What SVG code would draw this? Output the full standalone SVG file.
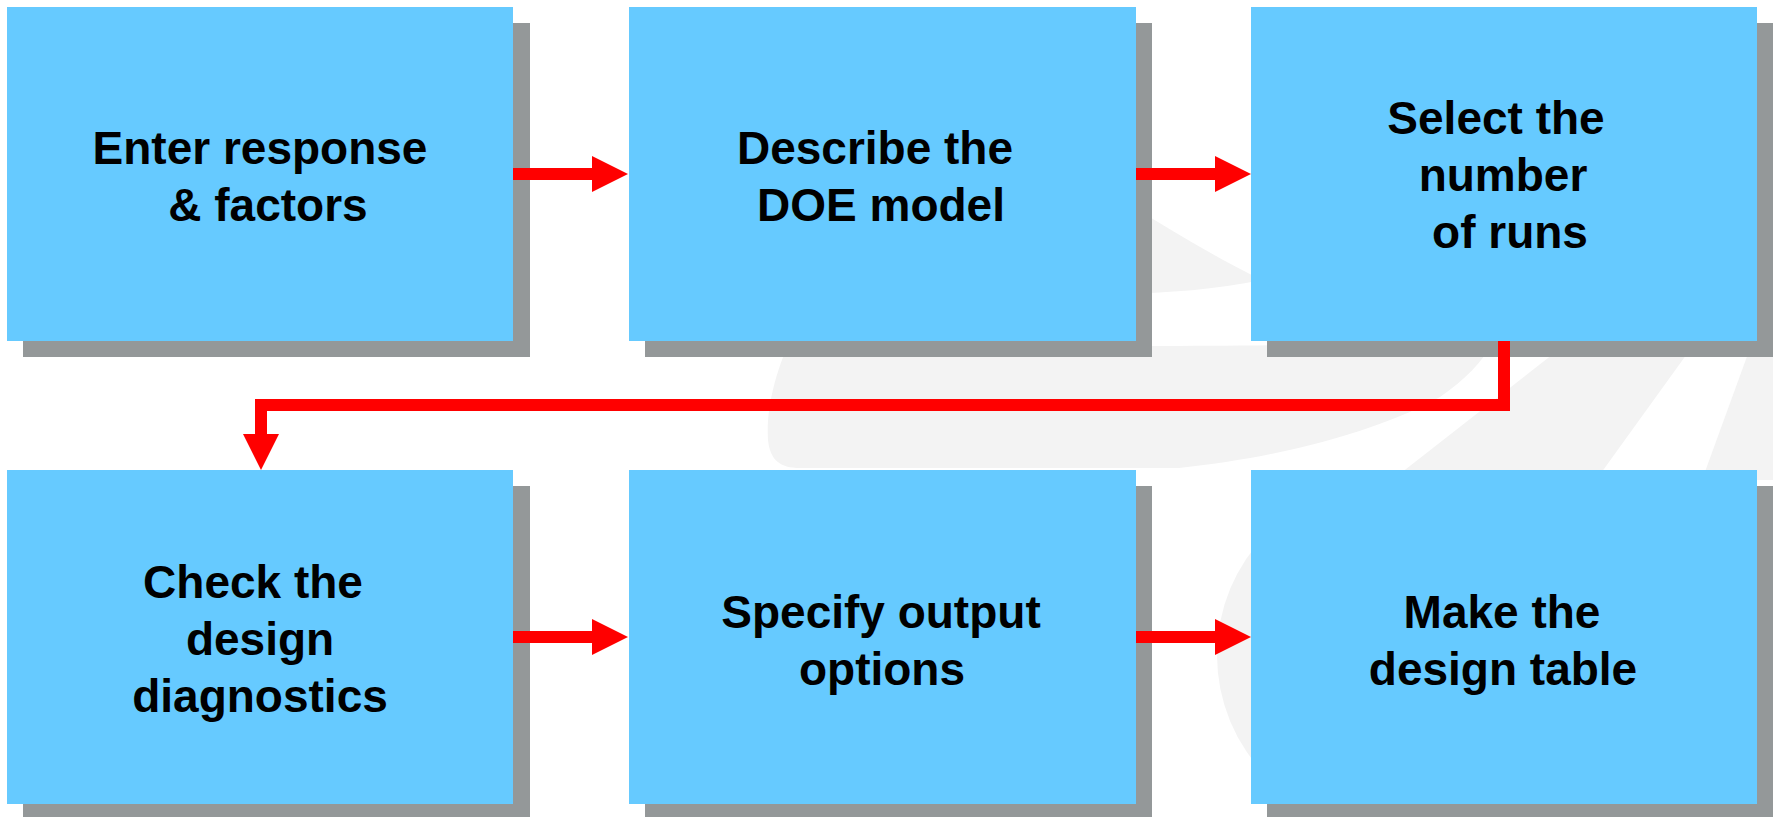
<svg xmlns="http://www.w3.org/2000/svg" width="1773" height="817" viewBox="0 0 1773 817">
  <style>
    .box { fill: #66CAFF; }
    .shadow { fill: #949899; }
    .label { font-family: "Liberation Sans", Arial, sans-serif; font-weight: bold; font-size: 46px; fill: #000000; text-anchor: middle; }
    .wm { fill: #F3F3F3; }
    .conn { fill: none; stroke: #FF0000; stroke-width: 12; stroke-linejoin: miter; stroke-linecap: butt; }
    .head { fill: #FF0000; }
  </style>
  <defs>
    <g id="arrowRight">
      <polygon class="head" points="0,-18 36,0 0,18"/>
    </g>
  </defs>
  <rect x="0" y="0" width="1773" height="817" fill="#FFFFFF"/>

  <!-- faint watermark background -->
  <g id="watermark">
    <path class="wm" d="M 1040 150 C 1110 190, 1180 240, 1262 280 C 1200 292, 1140 296, 1060 292 Z"/>
    <path class="wm" d="M 795 330 C 775 370, 766 410, 768 440 C 770 460, 780 468, 800 468 L 1179 468 C 1300 455, 1390 425, 1440 397 C 1465 380, 1482 362, 1495 340 C 1400 344, 1260 346, 1150 346 C 1000 344, 880 338, 795 330 Z"/>
    <path class="wm" d="M 1571 340 L 1697 340 L 1596 480 L 1392 480 Z"/>
    <path class="wm" d="M 1753 340 L 1773 340 L 1773 480 L 1702 480 Z"/>
    <circle class="wm" cx="1390" cy="655" r="173"/>
  </g>

  <!-- small logo fragment, bottom right -->
  <g id="logo">
    <path d="M 1718 814 Q 1740 801 1764 803" fill="none" stroke="#1a1a1a" stroke-width="5" stroke-linecap="round"/>
    <circle cx="1767" cy="798" r="7" fill="#1a1a1a"/>
    <line x1="1701" y1="817" x2="1713" y2="804" stroke="#b22a2a" stroke-width="4"/>
    <line x1="1688" y1="805" x2="1692" y2="817" stroke="#1a1a1a" stroke-width="3"/>
  </g>

  <g id="node1">
    <rect class="shadow" x="23" y="23" width="507" height="334"/>
    <rect class="box" x="7" y="7" width="506" height="334"/>
    <text class="label" x="260" y="164">Enter response</text>
    <text class="label" x="268" y="221">&amp; factors</text>
  </g>
  <g id="node2">
    <rect class="shadow" x="645" y="23" width="507" height="334"/>
    <rect class="box" x="629" y="7" width="507" height="334"/>
    <text class="label" x="875" y="164">Describe the</text>
    <text class="label" x="881" y="221">DOE model</text>
  </g>
  <g id="node3">
    <rect class="shadow" x="1267" y="23" width="507" height="334"/>
    <rect class="box" x="1251" y="7" width="506" height="334"/>
    <text class="label" x="1496" y="134">Select the</text>
    <text class="label" x="1503" y="191">number</text>
    <text class="label" x="1510" y="248">of runs</text>
  </g>
  <g id="node4">
    <rect class="shadow" x="23" y="486" width="507" height="334"/>
    <rect class="box" x="7" y="470" width="506" height="334"/>
    <text class="label" x="253" y="598">Check the</text>
    <text class="label" x="260" y="655">design</text>
    <text class="label" x="260" y="712">diagnostics</text>
  </g>
  <g id="node5">
    <rect class="shadow" x="645" y="486" width="507" height="334"/>
    <rect class="box" x="629" y="470" width="507" height="334"/>
    <text class="label" x="881" y="628">Specify output</text>
    <text class="label" x="882" y="685">options</text>
  </g>
  <g id="node6">
    <rect class="shadow" x="1267" y="486" width="507" height="334"/>
    <rect class="box" x="1251" y="470" width="506" height="334"/>
    <text class="label" x="1502" y="628">Make the</text>
    <text class="label" x="1503" y="685">design table</text>
  </g>

  <g id="connectors">
    <line class="conn" x1="513" y1="174" x2="594" y2="174"/>
    <use href="#arrowRight" x="592" y="174"/>
    <line class="conn" x1="1136" y1="174" x2="1217" y2="174"/>
    <use href="#arrowRight" x="1215" y="174"/>
    <path class="conn" d="M 1504 341 V 405 H 261 V 436"/>
    <polygon class="head" points="243,434 279,434 261,470"/>
    <line class="conn" x1="513" y1="637" x2="594" y2="637"/>
    <use href="#arrowRight" x="592" y="637"/>
    <line class="conn" x1="1136" y1="637" x2="1217" y2="637"/>
    <use href="#arrowRight" x="1215" y="637"/>
  </g>
</svg>
